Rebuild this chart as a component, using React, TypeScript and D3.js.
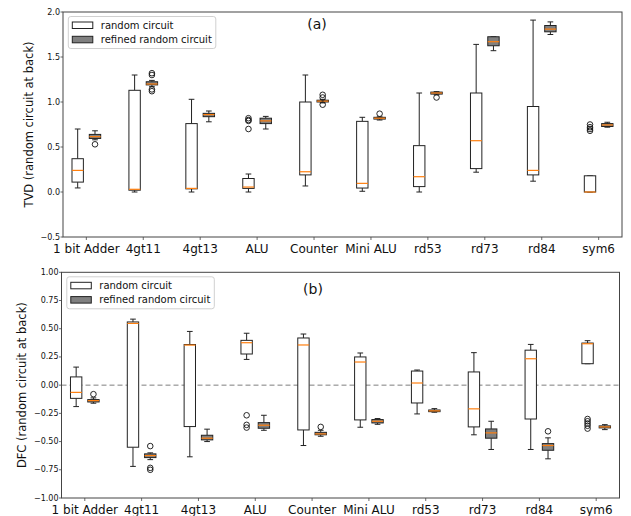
import React from "react";
import * as d3 from "d3";

const categories = ["1 bit Adder", "4gt11", "4gt13", "ALU", "Counter", "Mini ALU", "rd53", "rd73", "rd84", "sym6"];

// Panel (a) TVD — random circuit
const tvdRandLo = [0.045, 0.0, 0.0, 0.0, 0.067, 0.008, 0.0, 0.22, 0.12, 0.0];
const tvdRandQ1 = [0.11, 0.02, 0.035, 0.04, 0.19, 0.044, 0.06, 0.26, 0.19, 0.0];
const tvdRandMed = [0.24, 0.03, 0.04, 0.055, 0.225, 0.096, 0.17, 0.57, 0.24, 0.0];
const tvdRandQ3 = [0.37, 1.13, 0.76, 0.15, 1.0, 0.785, 0.515, 1.1, 0.95, 0.18];
const tvdRandHi = [0.7, 1.3, 1.03, 0.2, 1.3, 0.83, 1.1, 1.64, 1.91, 0.18];
const tvdRandOut = [[], [], [], [0.82, 0.8, 0.79, 0.7], [], [], [], [], [], [0.75, 0.72, 0.7, 0.68]];

// Panel (a) TVD — refined random circuit
const tvdRefLo = [0.58, 1.17, 0.78, 0.7, 0.99, 0.8, 1.08, 1.57, 1.75, 0.72];
const tvdRefQ1 = [0.595, 1.19, 0.837, 0.76, 1.0, 0.81, 1.088, 1.625, 1.78, 0.728];
const tvdRefMed = [0.615, 1.2, 0.86, 0.79, 1.01, 0.82, 1.1, 1.67, 1.81, 0.745];
const tvdRefQ3 = [0.64, 1.225, 0.874, 0.82, 1.02, 0.83, 1.11, 1.725, 1.85, 0.76];
const tvdRefHi = [0.68, 1.24, 0.9, 0.84, 1.03, 0.835, 1.115, 1.725, 1.89, 0.775];
const tvdRefOut = [[0.53], [1.32, 1.3, 1.14, 1.12], [], [], [1.08, 1.05, 0.97], [0.87], [1.05], [], [], []];

// Panel (b) DFC — random circuit
const dfcRandLo = [-0.19, -0.72, -0.635, 0.228, -0.535, -0.373, -0.255, -0.44, -0.57, 0.19];
const dfcRandQ1 = [-0.117, -0.55, -0.367, 0.276, -0.397, -0.308, -0.158, -0.37, -0.3, 0.19];
const dfcRandMed = [-0.064, 0.547, 0.355, 0.376, 0.356, 0.205, 0.019, -0.21, 0.234, 0.367];
const dfcRandQ3 = [0.073, 0.56, 0.36, 0.397, 0.418, 0.25, 0.125, 0.117, 0.31, 0.373];
const dfcRandHi = [0.16, 0.585, 0.476, 0.46, 0.453, 0.285, 0.134, 0.288, 0.361, 0.394];
const dfcRandOut = [[], [], [], [-0.267, -0.352, -0.376], [], [], [], [], [], [-0.3, -0.32, -0.34, -0.36, -0.385]];

// Panel (b) DFC — refined random circuit
const dfcRefLo = [-0.16, -0.66, -0.5, -0.4, -0.453, -0.347, -0.24, -0.57, -0.653, -0.394];
const dfcRefQ1 = [-0.149, -0.642, -0.485, -0.382, -0.44, -0.335, -0.235, -0.47, -0.577, -0.379];
const dfcRefMed = [-0.137, -0.624, -0.47, -0.355, -0.432, -0.32, -0.228, -0.423, -0.535, -0.37];
const dfcRefQ3 = [-0.128, -0.609, -0.444, -0.332, -0.418, -0.305, -0.22, -0.388, -0.518, -0.361];
const dfcRefHi = [-0.113, -0.6, -0.39, -0.267, -0.4, -0.296, -0.208, -0.32, -0.467, -0.35];
const dfcRefOut = [[-0.08], [-0.54, -0.733, -0.75], [], [], [-0.37], [], [], [], [-0.409], []];

const tvdTicks = [-0.5, 0, 0.5, 1.0, 1.5, 2.0];
const dfcTicks = [-1, -0.75, -0.5, -0.25, 0, 0.25, 0.5, 0.75, 1];

const seriesNames = ["random circuit", "refined random circuit"];

const FONT = "DejaVu Sans, sans-serif";
const ORANGE = "#ff7f0e";
const EDGE = "#222";
const REF_FILL = "#808080";

type Stats = { lo: number[]; q1: number[]; med: number[]; q3: number[]; hi: number[]; out: number[][] };

function fmtTick(v: number, digits: number) {
  const s = Math.abs(v).toFixed(digits);
  return v < 0 ? "\u2212" + s : s;
}

function Panel(props: {
  x0: number; x1: number; top: number; bottom: number;
  yDomain: [number, number]; ticks: number[]; digits: number;
  ylabel: string; ylabelX: number; tag: string; tagX: number; tagY: number;
  rand: Stats; ref: Stats; zeroLine: boolean;
}) {
  const { x0, x1, top, bottom, yDomain, ticks, digits, ylabel, ylabelX, tag, tagX, tagY, rand, ref, zeroLine } = props;
  const x = d3.scaleLinear().domain([0.59, 10.41]).range([x0, x1]);
  const y = d3.scaleLinear().domain(yDomain).range([bottom, top]);
  const bw = x(0.2) - x(0);
  const off = 0.152;

  const boxes = (s: Stats, dx: number, fill: string, key: string) =>
    categories.map((c, i) => {
      const cx = x(i + 1 + dx);
      const capW = bw / 2;
      const lo = s.lo[i], q1 = s.q1[i], med = s.med[i], q3 = s.q3[i], hi = s.hi[i];
      return (
        <g key={key + i}>
          <line x1={cx} x2={cx} y1={y(q3)} y2={y(hi)} stroke={EDGE} strokeWidth={1} />
          <line x1={cx} x2={cx} y1={y(q1)} y2={y(lo)} stroke={EDGE} strokeWidth={1} />
          <line x1={cx - capW / 2} x2={cx + capW / 2} y1={y(hi)} y2={y(hi)} stroke={EDGE} strokeWidth={1} />
          <line x1={cx - capW / 2} x2={cx + capW / 2} y1={y(lo)} y2={y(lo)} stroke={EDGE} strokeWidth={1} />
          <rect x={cx - bw / 2} y={y(q3)} width={bw} height={Math.max(0.01, y(q1) - y(q3))} fill={fill} stroke={EDGE} strokeWidth={1} />
          <line x1={cx - bw / 2} x2={cx + bw / 2} y1={y(med)} y2={y(med)} stroke={ORANGE} strokeWidth={1.2} />
          {s.out[i].map((o, j) => (
            <circle key={j} cx={cx} cy={y(o)} r={2.8} fill="none" stroke="#111" strokeWidth={0.9} />
          ))}
        </g>
      );
    });

  const lx = x0 + 5.3;
  const ly = top + 4.5;
  return (
    <g>
      {zeroLine && (
        <line x1={x0} x2={x1} y1={y(0)} y2={y(0)} stroke="#7f7f7f" strokeWidth={1} strokeDasharray="5,3" />
      )}
      {boxes(rand, -off, "white", "r")}
      {boxes(ref, off, REF_FILL, "f")}
      <rect x={x0} y={top} width={x1 - x0} height={bottom - top} fill="none" stroke="#444" strokeWidth={1} />
      {ticks.map((t) => (
        <g key={"yt" + t}>
          <line x1={x0 - 2.5} x2={x0} y1={y(t)} y2={y(t)} stroke="#444" strokeWidth={0.8} />
          <text x={x0 - 3} y={y(t)} dy="0.32em" textAnchor="end" fontSize={8} fontFamily={FONT} fill="#111">
            {fmtTick(t, digits)}
          </text>
        </g>
      ))}
      {categories.map((c, i) => (
        <g key={"xt" + i}>
          <line x1={x(i + 1)} x2={x(i + 1)} y1={bottom} y2={bottom + 3} stroke="#444" strokeWidth={0.8} />
          <text x={x(i + 1)} y={bottom + 16} textAnchor="middle" fontSize={12} fontFamily={FONT} fill="#111">
            {c}
          </text>
        </g>
      ))}
      <text
        transform={`translate(${ylabelX},${(top + bottom) / 2}) rotate(-90)`}
        textAnchor="middle" fontSize={11.5} fontFamily={FONT} fill="#111"
      >
        {ylabel}
      </text>
      <text x={tagX} y={tagY} textAnchor="middle" fontSize={14} fontFamily={FONT} fill="#111">{tag}</text>
      <g>
        <rect x={lx} y={ly} width={147.5} height={32} rx={2.5} fill="white" fillOpacity={0.8} stroke="#d0d0d0" strokeWidth={1} />
        {seriesNames.map((n, i) => (
          <g key={n}>
            <rect x={lx + 4} y={ly + 5.5 + i * 14.3} width={20.5} height={6.5} fill={i === 0 ? "white" : REF_FILL} stroke={EDGE} strokeWidth={1} />
            <text x={lx + 32.5} y={ly + 8.8 + i * 14.3} dy="0.35em" fontSize={10} fontFamily={FONT} fill="#111">{n}</text>
          </g>
        ))}
      </g>
    </g>
  );
}

export default function App() {
  const tvdRand: Stats = { lo: tvdRandLo, q1: tvdRandQ1, med: tvdRandMed, q3: tvdRandQ3, hi: tvdRandHi, out: tvdRandOut };
  const tvdRef: Stats = { lo: tvdRefLo, q1: tvdRefQ1, med: tvdRefMed, q3: tvdRefQ3, hi: tvdRefHi, out: tvdRefOut };
  const dfcRand: Stats = { lo: dfcRandLo, q1: dfcRandQ1, med: dfcRandMed, q3: dfcRandQ3, hi: dfcRandHi, out: dfcRandOut };
  const dfcRef: Stats = { lo: dfcRefLo, q1: dfcRefQ1, med: dfcRefMed, q3: dfcRefQ3, hi: dfcRefHi, out: dfcRefOut };
  return (
    <svg width={631} height={516} style={{ position: "absolute", left: 0, top: 0, background: "white" }}>
      <rect width={631} height={516} fill="white" />
      <Panel x0={63} x1={622} top={12} bottom={237} yDomain={[-0.5, 2.0]} ticks={tvdTicks} digits={1}
        ylabel="TVD (random circuit at back)" ylabelX={33} tag="(a)" tagX={317} tagY={29}
        rand={tvdRand} ref={tvdRef} zeroLine={false} />
      <Panel x0={61.5} x1={619.5} top={272.3} bottom={498} yDomain={[-1, 1]} ticks={dfcTicks} digits={2}
        ylabel="DFC (random circuit at back)" ylabelX={26} tag="(b)" tagX={313} tagY={294}
        rand={dfcRand} ref={dfcRef} zeroLine={true} />
    </svg>
  );
}
